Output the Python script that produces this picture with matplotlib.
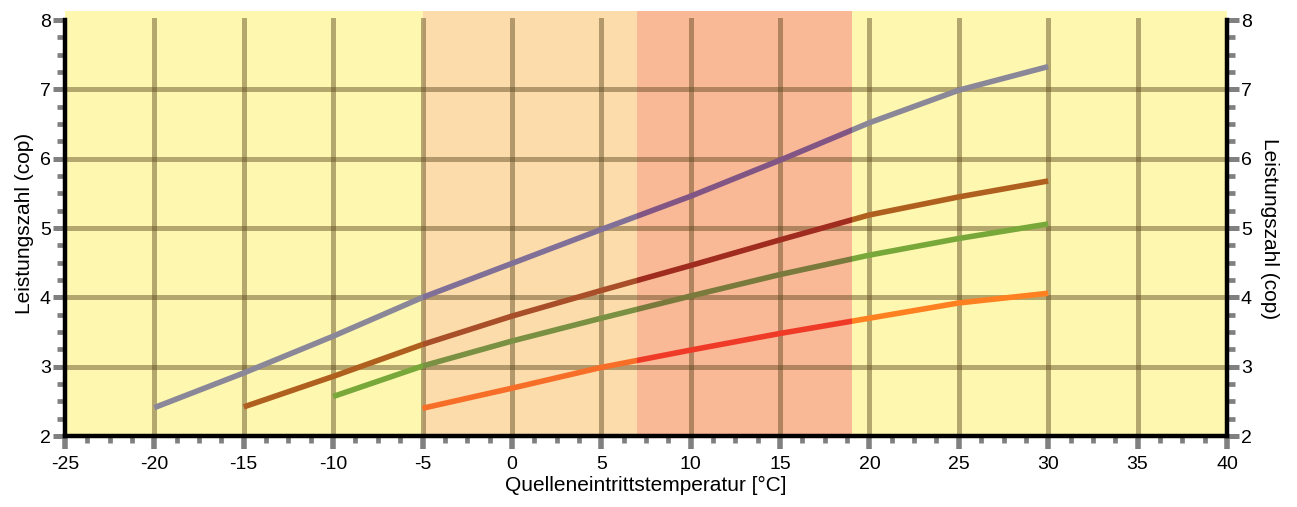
import numpy as np
import matplotlib.pyplot as plt
from matplotlib.patches import Rectangle
from matplotlib.transforms import blended_transform_factory
from matplotlib.ticker import MultipleLocator

plt.rcParams['font.family'] = ['Liberation Sans', 'DejaVu Sans']
plt.rcParams['axes.unicode_minus'] = False

# Daten
x_grau = [-20, -15, -10, -5, 0, 5, 10, 15, 20, 25, 30]
y_grau = [2.41, 2.91, 3.44, 4.00, 4.49, 4.98, 5.46, 5.98, 6.52, 6.99, 7.33]
x_braun = [-15, -10, -5, 0, 5, 10, 15, 20, 25, 30]
y_braun = [2.42, 2.86, 3.32, 3.73, 4.10, 4.46, 4.83, 5.19, 5.45, 5.68]
x_gruen = [-10, -5, 0, 5, 10, 15, 20, 25, 30]
y_gruen = [2.57, 3.01, 3.37, 3.70, 4.02, 4.33, 4.61, 4.85, 5.06]
x_orange = [-5, 0, 5, 10, 15, 20, 25, 30]
y_orange = [2.40, 2.69, 2.99, 3.24, 3.48, 3.70, 3.92, 4.06]

# Bereiche: (von, bis, Farbe)
bereiche = [(-5, 7, '#fddcab'), (7, 19, '#f9b896')]

# Linienfarben je Bereich: gelb, hell, lachs
farben = {
    'grau': ['#8a8798', '#807098', '#825684'],
    'braun': ['#b0601e', '#a84e28', '#a02c20'],
    'gruen': ['#78a83a', '#7a9042', '#7a7a3c'],
    'orange': ['#ff8020', '#f76e28', '#f03a28'],
}
serien = [('grau', x_grau, y_grau), ('braun', x_braun, y_braun),
          ('gruen', x_gruen, y_gruen), ('orange', x_orange, y_orange)]

fig = plt.figure(figsize=(12.97, 5.07), dpi=100)
ax = fig.add_axes([0.0501, 0.140, 0.8959, 0.838])
ax.set_facecolor('#fef7af')
ax.set_xlim(-25, 40)
ax.set_ylim(2, 8.13)

for x0, x1, c in bereiche:
    ax.axvspan(x0, x1, color=c, lw=0, zorder=1)

# Gitter
gitter_c = (90/255, 70/255, 30/255)
ytop = 6 / 6.13
for gx in range(-20, 40, 5):
    ax.axvline(gx, ymax=ytop, color=gitter_c, alpha=0.45, lw=3.6, zorder=2)
for gy in range(3, 8):
    ax.axhline(gy, color=gitter_c, alpha=0.45, lw=3.6, zorder=2)

trans = blended_transform_factory(ax.transData, ax.transAxes)
clips = [(-25, -5, 0), (-5, 7, 1), (7, 19, 2), (19, 40, 0)]
for name, xs, ys in serien:
    for x0, x1, idx in clips:
        line, = ax.plot(xs, ys, color=farben[name][idx], lw=4, zorder=3,
                        solid_capstyle='butt')
        rect = Rectangle((x0, 0), x1 - x0, 1, transform=trans)
        line.set_clip_path(rect)

ax.spines['top'].set_visible(False)
for s in ['left', 'right', 'bottom']:
    ax.spines[s].set_linewidth(3.2)
    ax.spines[s].set_color('black')
    ax.spines[s].set_zorder(4)
ax.spines['left'].set_bounds(2, 8)
ax.spines['right'].set_bounds(2, 8)

ax.xaxis.set_major_locator(MultipleLocator(5))
ax.xaxis.set_minor_locator(MultipleLocator(1.25))
ax.set_yticks(range(2, 9))
ax.yaxis.set_minor_locator(MultipleLocator(0.25))
ax.tick_params(axis='x', which='major', direction='out', length=9.4, width=4,
               color='#808080', labelsize=14, pad=5)
ax.tick_params(axis='x', which='minor', direction='out', length=5, width=3.4,
               color='#808080')
ax.tick_params(axis='y', which='major', direction='out', length=8.6, width=3.6,
               color='#808080', labelsize=14, pad=1.5, right=True, labelright=True)
ax.tick_params(axis='y', which='minor', direction='out', length=5.5, width=3.4,
               color='#808080', right=True)
ax.set_xlabel('Quelleneintrittstemperatur [°C]', fontsize=15, labelpad=2)
ax.set_ylabel('Leistungszahl (cop)', fontsize=15, labelpad=4)
ax.text(1.037, 3 / 6.13, 'Leistungszahl (cop)', transform=ax.transAxes,
        rotation=270, fontsize=15, ha='center', va='center')

fig.savefig('out.png', dpi=100)
